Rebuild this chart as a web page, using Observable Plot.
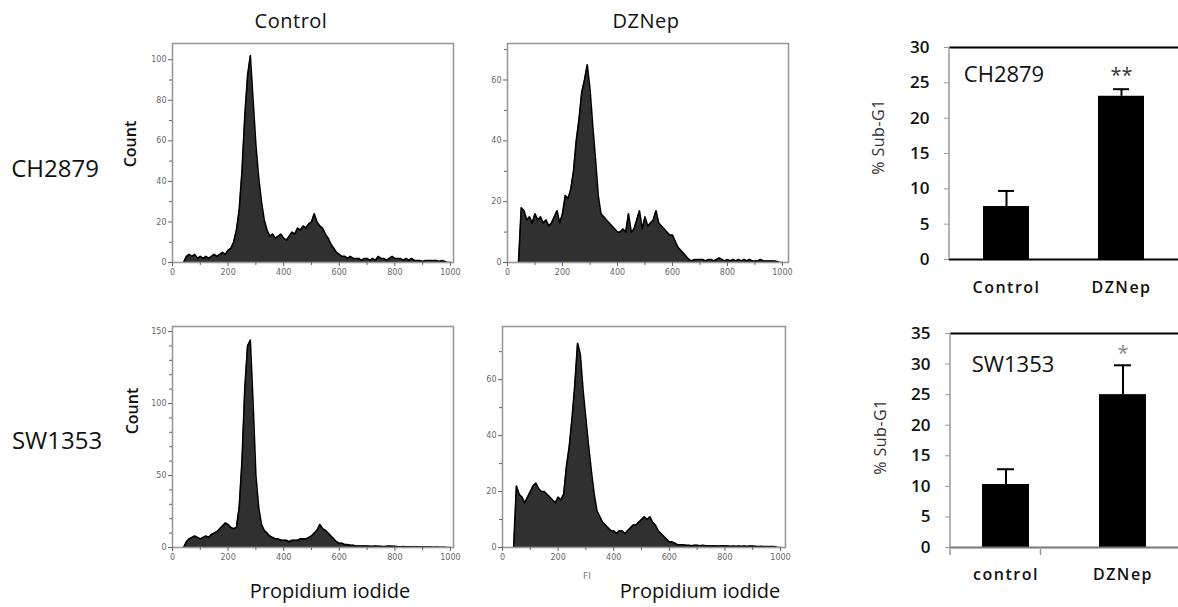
<!DOCTYPE html>
<html>
<head>
<meta charset="utf-8">
<script src="https://cdn.jsdelivr.net/npm/d3@7"></script>
<script src="https://cdn.jsdelivr.net/npm/@observablehq/plot@0.6"></script>
<style>
  html, body { margin: 0; padding: 0; background: #fff; }
  #fig { position: relative; width: 1178px; height: 607px; overflow: hidden; background: #fff; font-family: "Open Sans", sans-serif; }
  .panel { position: absolute; }
  .panel svg { max-width: none !important; overflow: visible; }
  .lbl { position: absolute; white-space: nowrap; transform: translate(-50%, -50%); color: #111; line-height: 1; }
</style>
</head>
<body>
<div id="fig"></div>
<script>
// ---------------- DATA ----------------
const columnTitles = ["Control", "DZNep"];
const cellLines = ["CH2879", "SW1353"];

// propidium iodide channel (histogram bin positions)
const piBins = [
  40, 50, 60, 70, 80, 90, 100, 110, 120, 130,
  140, 150, 160, 170, 180, 190, 200, 210, 220, 230,
  240, 250, 260, 270, 280, 290, 300, 310, 320, 330,
  340, 350, 360, 370, 380, 390, 400, 410, 420, 430,
  440, 450, 460, 470, 480, 490, 500, 510, 520, 530,
  540, 550, 560, 570, 580, 590, 600, 610, 620, 630,
  640, 650, 660, 670, 680, 690, 700, 710, 720, 730,
  740, 750, 760, 770, 780, 790, 800, 810, 820, 830,
  840, 850, 860, 870, 880, 890, 900, 910, 920, 930,
  940, 950, 960, 970, 980, 990, 1000
];

// CH2879 control counts
const countsCH2879Control = [
  0, 3, 4, 3, 4, 2, 3, 2, 3, 2,
  3, 4, 3, 4, 5, 4, 6, 7, 10, 16,
  26, 45, 72, 92, 102, 80, 58, 42, 30, 21,
  16, 13, 14, 12, 13, 14, 12, 11, 13, 15,
  14, 17, 16, 18, 17, 19, 20, 24, 20, 18,
  17, 14, 12, 9, 7, 5, 4, 3, 3, 2,
  3, 2, 2, 2, 1, 2, 2, 1, 2, 1,
  3, 2, 2, 1, 2, 3, 2, 2, 2, 1,
  2, 1, 2, 1, 1, 1, 0.5, 1, 1, 1,
  1, 1, 0.5, 1, 0.5, 0, 0
];

// CH2879 DZNep counts
const countsCH2879DZNep = [
  0, 18, 17, 14, 15, 13, 16, 14, 15, 13,
  14, 12, 13, 15, 17, 13, 16, 22, 21, 24,
  30, 40, 47, 56, 60, 65, 57, 45, 34, 22,
  16, 15, 14, 13, 12, 11, 10, 10, 11, 10,
  16, 10, 11, 14, 17, 11, 15, 12, 13, 14,
  17, 13, 12, 11, 10, 9, 9, 7, 5, 4,
  3, 2, 1, 0.5, 1, 1, 1, 1, 0.5, 1,
  1, 0.5, 1, 1.5, 1, 0.5, 1, 0.5, 1, 0.5,
  1, 0.5, 1, 0.5, 1, 0.5, 0.5, 0.5, 1, 0.5,
  0.5, 0.5, 0.5, 0.5, 0.3, 0, 0
];

// SW1353 control counts
const countsSW1353Control = [
  0, 4, 6, 7, 8, 7, 6, 7, 8, 7,
  9, 10, 11, 13, 15, 17, 16, 14, 13, 14,
  28, 60, 110, 140, 144, 100, 50, 28, 16, 12,
  10, 8, 7, 6, 6, 5, 5, 5, 4, 5,
  5, 5, 6, 6, 6, 7, 8, 10, 12, 16,
  13, 12, 10, 8, 6, 4, 3, 3, 2, 2,
  1.5, 1.5, 1, 1, 1, 1, 1, 0.8, 0.8, 1,
  0.8, 0.8, 0.6, 0.8, 1, 0.8, 0.8, 0.6, 0.5, 0.6,
  0.5, 0.5, 0.5, 0.4, 0.5, 0.3, 0.4, 0.3, 0.3, 0.3,
  0.2, 0.3, 0.2, 0.2, 0.1, 0, 0
];

// SW1353 DZNep counts
const countsSW1353DZNep = [
  0, 22, 19, 18, 16, 18, 20, 22, 23, 21,
  20, 20, 19, 18, 17, 16, 18, 17, 19, 29,
  36, 46, 58, 73, 69, 56, 46, 36, 27, 19,
  13, 11, 9, 8, 7, 6, 6, 5, 6, 6,
  5, 6, 7, 8, 8, 9, 10, 11, 10, 11,
  9, 8, 6, 5, 4, 3, 2, 2, 1.5, 1,
  1, 1, 0.8, 0.8, 0.6, 0.8, 0.8, 0.6, 0.8, 0.6,
  0.6, 0.5, 0.6, 0.5, 0.5, 0.6, 0.6, 0.5, 0.4, 0.5,
  0.4, 0.5, 0.4, 0.5, 0.4, 0.5, 0.5, 0.4, 0.3, 0.4,
  0.3, 0.3, 0.3, 0.3, 0.3, 0, 0
];

const piTicks = [0, 200, 400, 600, 800, 1000];
const piMinorTicks = [100, 300, 500, 700, 900];

// Sub-G1 bar charts
const groupsCH2879 = ["Control", "DZNep"];
const subG1CH2879 = [7.5, 23.1];
const errTopCH2879 = [9.7, 24.1];
const sigCH2879 = ["", "**"];
const yTicksCH2879 = [0, 5, 10, 15, 20, 25, 30];

const groupsSW1353 = ["control", "DZNep"];
const subG1SW1353 = [10.3, 25.0];
const errTopSW1353 = [12.8, 29.8];
const sigSW1353 = ["", "*"];
const yTicksSW1353 = [0, 5, 10, 15, 20, 25, 30, 35];

// ---------------- LAYOUT HELPERS ----------------
const fig = document.getElementById("fig");

function place(node, left, top, w, h) {
  const d = document.createElement("div");
  d.className = "panel";
  d.style.left = left + "px";
  d.style.top = top + "px";
  d.style.width = w + "px";
  d.style.height = h + "px";
  d.appendChild(node);
  fig.appendChild(d);
  return d;
}

function label(text, x, y, opts = {}) {
  const d = document.createElement("div");
  d.className = "lbl";
  d.textContent = text;
  d.style.left = x + "px";
  d.style.top = y + "px";
  d.style.fontSize = (opts.size || 16) + "px";
  if (opts.weight) d.style.fontWeight = opts.weight;
  if (opts.color) d.style.color = opts.color;
  if (opts.family) d.style.fontFamily = opts.family;
  if (opts.spacing) d.style.letterSpacing = opts.spacing + "px";
  let t = "translate(-50%, -50%)";
  if (opts.rotate) t += ` rotate(${opts.rotate}deg)`;
  d.style.transform = t;
  fig.appendChild(d);
}

function histogram(counts, cfg) {
  const data = piBins.map((x, i) => ({x, y: counts[i]}));
  const chart = Plot.plot({
    width: cfg.width, height: cfg.height,
    marginLeft: cfg.ml, marginRight: cfg.mr, marginTop: cfg.mt, marginBottom: cfg.mb,
    style: {background: "transparent", overflow: "visible", fontFamily: "DejaVu Sans", fontSize: "8px", color: "#666"},
    x: {domain: [0, cfg.xMax], label: null},
    y: {domain: [0, cfg.yMax], label: null},
    marks: [
      Plot.areaY(data, {x: "x", y: "y", fill: "#303030", clip: true}),
      Plot.lineY(data, {x: "x", y: "y", stroke: "#000", strokeWidth: 1.6, clip: true}),
      Plot.frame({stroke: "#9a9a9a", strokeWidth: 1.6}),
      Plot.axisY(cfg.yTicks, {tickSize: 4, tickPadding: 2, label: null, tickFormat: d => String(d)}),
      Plot.axisY(cfg.yMinor, {tickSize: 3, label: null, tickFormat: () => ""}),
      Plot.axisX(piTicks, {tickSize: 4, tickPadding: 3, label: null, tickFormat: d => String(d)}),
      Plot.axisX(piMinorTicks, {tickSize: 3, label: null, tickFormat: () => ""})
    ]
  });
  place(chart, cfg.left, cfg.top, cfg.width, cfg.height);
}

function barChart(groups, vals, errs, sig, ticks, cfg) {
  const data = groups.map((g, i) => ({g, v: vals[i], e: errs[i], s: sig[i]}));
  const yMax = ticks[ticks.length - 1];
  const chart = Plot.plot({
    width: cfg.width, height: cfg.height,
    marginLeft: cfg.ml, marginRight: 0, marginTop: cfg.mt, marginBottom: cfg.mb,
    style: {background: "transparent", overflow: "visible", fontFamily: "Open Sans", fontSize: "16px", fontWeight: "600", color: "#111"},
    x: {domain: groups, paddingInner: cfg.pi, paddingOuter: cfg.po, label: null},
    y: {domain: [0, yMax], label: null},
    marks: [
      Plot.ruleX(data, {x: "g", y1: "v", y2: "e", stroke: "#000", strokeWidth: 2}),
      Plot.tickY(data, {x: "g", y: "e", stroke: "#000", strokeWidth: 2, insetLeft: cfg.cap, insetRight: cfg.cap}),
      Plot.barY(data, {x: "g", y: "v", fill: "#000"}),
      Plot.ruleY([0], {stroke: cfg.baseColor, strokeWidth: 2}),
      Plot.ruleY([yMax], {stroke: "#000", strokeWidth: 2}),
      Plot.axisY(ticks, {tickSize: 5, tickPadding: 15, stroke: "#999", label: null, fontSize: 17}),
      Plot.axisX({tickSize: 0, tickPadding: cfg.xPad, label: null, fontSize: 16}),
      Plot.text(data, {x: "g", y: "e", text: "s", dy: cfg.sigDy, fontSize: 20, fill: cfg.sigColor, fontWeight: "400"})
    ]
  });
  const xs = chart.scale("x"), ys = chart.scale("y");
  const svg = d3.select(chart);
  svg.selectAll("g[aria-label='x-axis tick label'] text").style("letter-spacing", "1.5px");
  const x0 = xs.range[0];
  svg.append("line")
    .attr("x1", x0).attr("x2", x0)
    .attr("y1", ys.range[0]).attr("y2", ys.range[1])
    .attr("stroke", "#9a9a9a").attr("stroke-width", 1.5);
  if (cfg.sepTicks) {
    const xm = (xs.apply(groups[0]) + xs.apply(groups[1])) / 2;
    [x0, xm].forEach(x => svg.append("line")
      .attr("x1", x).attr("x2", x)
      .attr("y1", ys.range[0]).attr("y2", ys.range[0] + 8)
      .attr("stroke", "#9a9a9a").attr("stroke-width", 1.5));
  }
  place(chart, cfg.left, cfg.top, cfg.width, cfg.height);
}

// ---------------- HISTOGRAMS ----------------
histogram(countsCH2879Control, {left: 120, top: 35, width: 345, height: 250, ml: 52, mr: 12, mt: 8, mb: 23,
  xMax: 1011, yMax: 108, yTicks: [0, 20, 40, 60, 80, 100], yMinor: [10, 30, 50, 70, 90]});
histogram(countsCH2879DZNep, {left: 490, top: 35, width: 300, height: 250, ml: 17, mr: 2, mt: 8, mb: 23,
  xMax: 1022, yMax: 72, yTicks: [0, 20, 40, 60], yMinor: [10, 30, 50, 70]});
histogram(countsSW1353Control, {left: 120, top: 318, width: 345, height: 255, ml: 52, mr: 12, mt: 8, mb: 26,
  xMax: 1011, yMax: 153.5, yTicks: [0, 50, 100, 150],
  yMinor: [10, 20, 30, 40, 60, 70, 80, 90, 110, 120, 130, 140]});
histogram(countsSW1353DZNep, {left: 490, top: 318, width: 300, height: 255, ml: 12, mr: 5, mt: 8, mb: 26,
  xMax: 1018, yMax: 79, yTicks: [0, 20, 40, 60], yMinor: [10, 30, 50, 70]});

// ---------------- BAR CHARTS ----------------
barChart(groupsCH2879, subG1CH2879, errTopCH2879, sigCH2879, yTicksCH2879,
  {left: 860, top: 30, width: 318, height: 280, ml: 89, mt: 17, mb: 51, pi: 0.6, po: 0.29, cap: 15,
   xPad: 22, baseColor: "#000", sigDy: -14, sigColor: "#333"});
barChart(groupsSW1353, subG1SW1353, errTopSW1353, sigSW1353, yTicksSW1353,
  {left: 860, top: 310, width: 318, height: 297, ml: 90, mt: 23, mb: 60, pi: 0.6, po: 0.27, cap: 15,
   xPad: 21, baseColor: "#777", sigDy: -12, sigColor: "#888", sepTicks: true});

// ---------------- TEXT ----------------
label(columnTitles[0], 291, 21, {size: 20, spacing: 0.5});
label(columnTitles[1], 646, 21, {size: 20, spacing: 0.5});
label(cellLines[0], 55, 168, {size: 24});
label(cellLines[1], 57, 440, {size: 24});
label("Count", 130, 144, {size: 16, weight: 600, rotate: -90});
label("Count", 132, 411, {size: 16, weight: 600, rotate: -90});
label("Propidium iodide", 330, 591, {size: 20});
label("Propidium iodide", 700, 591, {size: 20});
label("FI", 587, 576, {size: 9, color: "#777", family: "DejaVu Sans"});
label("% Sub-G1", 878, 137, {size: 16, rotate: -90, color: "#333", spacing: 0.5});
label("% Sub-G1", 880, 437, {size: 16, rotate: -90, color: "#333", spacing: 0.5});
label(cellLines[0], 1004, 73, {size: 22});
label(cellLines[1], 1013, 363, {size: 22});
</script>
</body>
</html>
